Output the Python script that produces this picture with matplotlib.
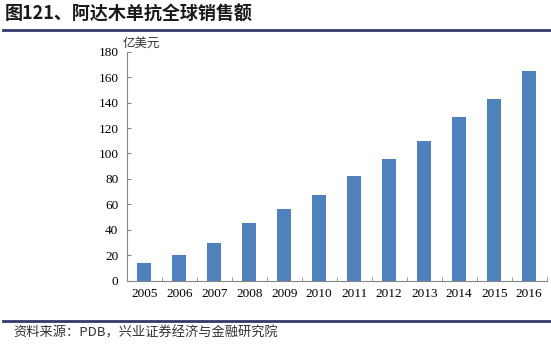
import matplotlib
matplotlib.use("Agg")
import matplotlib.pyplot as plt
from matplotlib.lines import Line2D

years = ["2005", "2006", "2007", "2008", "2009", "2010", "2011", "2012", "2013", "2014", "2015", "2016"]
sales = [14, 20, 30, 45, 56, 67, 82, 96, 110, 129, 143, 165]
yticks = [0, 20, 40, 60, 80, 100, 120, 140, 160, 180]

title = "图121、阿达木单抗全球销售额"
unit = "亿美元"
source = "资料来源：PDB，兴业证券经济与金融研究院"

cjk = ["Noto Sans CJK SC", "DejaVu Sans"]
serif = ["Liberation Serif", "Noto Sans CJK SC"]

W, H = 551, 348
fig = plt.figure(figsize=(W / 100, H / 100), dpi=100)
fig.patch.set_facecolor("white")

ax = fig.add_axes([126.7 / W, 1 - 280.7 / H, 420 / W, (280.7 - 51.7) / H])
x = list(range(len(years)))
ax.bar(x, sales, width=0.41, color="#4f81bd", zorder=2)
ax.set_xlim(-0.5, len(years) - 0.5)
ax.set_ylim(0, 180)
ax.set_yticks(yticks)
ax.set_yticklabels([str(v) for v in yticks], family=serif, fontsize=9.5)
ax.set_xticks(x)
ax.set_xticklabels(years, family=serif, fontsize=9.5)
ax.tick_params(axis="x", which="major", length=0, pad=5)
ax.set_xticks([i + 0.5 for i in range(len(years))], minor=True)
ax.tick_params(axis="x", which="minor", direction="in", length=3, color="#868686")
ax.tick_params(axis="y", direction="in", length=3, color="#868686", pad=6)
for s in ["top", "right"]:
    ax.spines[s].set_visible(False)
for s in ["left", "bottom"]:
    ax.spines[s].set_color("#868686")
    ax.spines[s].set_linewidth(0.8)

fig.text(5 / W, 1 - 14 / H, title, family=cjk, fontsize=13, fontweight="bold",
         ha="left", va="center", color="#1a1a1a")
fig.text(123 / W, 1 - 43 / H, unit, family=cjk, fontsize=9, ha="left", va="center", color="#333333")
fig.text(13 / W, 1 - 333 / H, source, family=cjk, fontsize=9.5, ha="left", va="center", color="#333333")

fig.add_artist(Line2D([3 / W, 1], [1 - 29.5 / H] * 2, transform=fig.transFigure,
                      color="#35386a", linewidth=2.0))
fig.add_artist(Line2D([3 / W, 1], [1 - 320.5 / H] * 2, transform=fig.transFigure,
                      color="#35386a", linewidth=2.0))

fig.savefig("out.png", dpi=100, facecolor="white")
